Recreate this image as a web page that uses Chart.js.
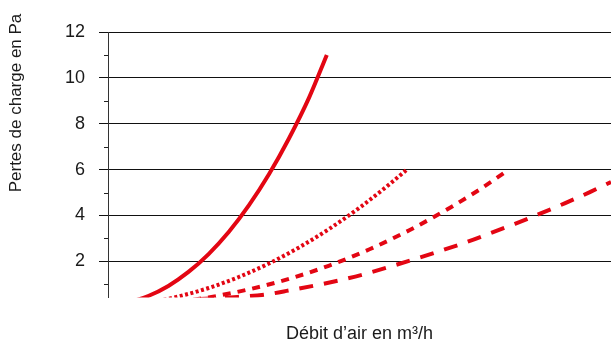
<!DOCTYPE html>
<html>
<head>
<meta charset="utf-8">
<script src="https://cdn.jsdelivr.net/npm/chart.js@4/dist/chart.umd.min.js"></script>
<style>
  html, body { margin: 0; padding: 0; background: #fff; }
</style>
</head>
<body>
<canvas id="chartContainer" width="611" height="347"></canvas>
<script>
// titles
var yTitle = "Pertes de charge en Pa";
var xTitle = "Débit d\u2019air en m\u00b3/h";

// y axis: labelled ticks and minor ticks
var yLabelled = [2, 4, 6, 8, 10, 12];
var yMinor = [1, 3, 5, 7, 9, 11];

// curves (x in arbitrary flow units 0..100, no x labels shown)
var solidX  = [4, 8, 12, 16, 20, 24, 28, 32, 36, 40, 43.5];
var solidY  = [0.20, 0.49, 0.93, 1.54, 2.32, 3.28, 4.44, 5.80, 7.37, 9.15, 11.0];
var dottedX = [10, 14, 20, 26, 32, 38, 44, 50, 56, 59.4];
var dottedY = [0.28, 0.47, 0.84, 1.32, 1.91, 2.61, 3.42, 4.34, 5.37, 6.0];
var dashX   = [14, 20, 28, 36, 44, 52, 60, 68, 74, 79.7];
var dashY   = [0.24, 0.43, 0.78, 1.24, 1.82, 2.53, 3.37, 4.34, 5.15, 6.0];
var longX   = [18.3, 24.3, 31.2, 36.2, 41.2, 46.1, 51.1, 56.1, 61.0, 66.0, 71.0, 75.9, 80.9, 85.9, 90.9, 95.8, 100];
var longY   = [0.36, 0.43, 0.55, 0.74, 0.95, 1.18, 1.45, 1.77, 2.10, 2.45, 2.82, 3.22, 3.64, 4.08, 4.54, 5.02, 5.46];

var red = "#e30613";
var font = "'Liberation Sans', Arial, Helvetica, sans-serif";

function pts(xs, ys) {
    var out = [];
    for (i = 0; i < xs.length; i++) {
        out.push({x: xs[i], y: ys[i]});
    }
    return out;
}

function curve(xs, ys, dash) {
    return {
        data: pts(xs, ys),
        borderColor: red,
        borderWidth: 4,
        borderDash: dash,
        borderCapStyle: 'butt',
        pointRadius: 0,
        fill: false,
        cubicInterpolationMode: 'monotone',
        clip: 0
    };
}

// y title sits above axis centre, and minor ticks are shorter than major ones
var extras = {
    id: 'extras',
    afterDraw: function(chart) {
        var ctx = chart.ctx;
        var ys = chart.scales.y;
        var left = chart.chartArea.left;
        ctx.save();
        ctx.strokeStyle = "#222";
        ctx.lineWidth = 1;
        yMinor.forEach(function(v) {
            var py = Math.round(ys.getPixelForValue(v)) + 0.5;
            ctx.beginPath();
            ctx.moveTo(left - 4, py);
            ctx.lineTo(left, py);
            ctx.stroke();
        });
        ctx.translate(16, 103);
        ctx.rotate(-Math.PI / 2);
        ctx.fillStyle = "#1a1a1a";
        ctx.font = "17px " + font;
        ctx.textAlign = "center";
        ctx.textBaseline = "middle";
        ctx.fillText(yTitle, 0, 0);
        ctx.restore();
    }
};

var myChart = new Chart('chartContainer', {
    type: 'line',
    data: {
        datasets: [
            curve(solidX, solidY, []),
            curve(dottedX, dottedY, [3, 2.5]),
            curve(dashX, dashY, [8, 7]),
            curve(longX, longY, [14, 11])
        ]
    },
    options: {
        responsive: false,
        animation: false,
        layout: { padding: { top: 32, right: 0, bottom: 0, left: 0 } },
        plugins: {
            legend: { display: false },
            tooltip: { enabled: false }
        },
        scales: {
            x: {
                type: 'linear',
                min: 0,
                max: 100,
                grid: { display: false, drawTicks: false },
                border: { display: false },
                ticks: { display: false },
                title: {
                    display: true,
                    text: xTitle,
                    color: "#1a1a1a",
                    font: { family: font, size: 18 },
                    padding: { top: 26, bottom: 2 }
                }
            },
            y: {
                min: 0.43,
                max: 12,
                afterBuildTicks: function(scale) {
                    scale.ticks = yMinor.concat(yLabelled).sort(function(a, b) { return a - b; })
                        .map(function(v) { return {value: v}; });
                },
                afterFit: function(scale) { scale.width = 108; },
                grid: {
                    color: function(c) { return yLabelled.indexOf(c.tick.value) >= 0 ? "#111" : "rgba(0,0,0,0)"; },
                    tickColor: function(c) { return yLabelled.indexOf(c.tick.value) >= 0 ? "#111" : "rgba(0,0,0,0)"; },
                    tickLength: 9,
                    lineWidth: 1
                },
                border: { display: true, color: "#333", width: 1 },
                ticks: {
                    padding: 14,
                    color: "#1a1a1a",
                    font: { family: font, size: 18 },
                    autoSkip: false,
                    callback: function(v) { return yLabelled.indexOf(v) >= 0 ? String(v) : ''; }
                },
                title: { display: false }
            }
        }
    },
    plugins: [extras]
});
</script>
</body>
</html>
